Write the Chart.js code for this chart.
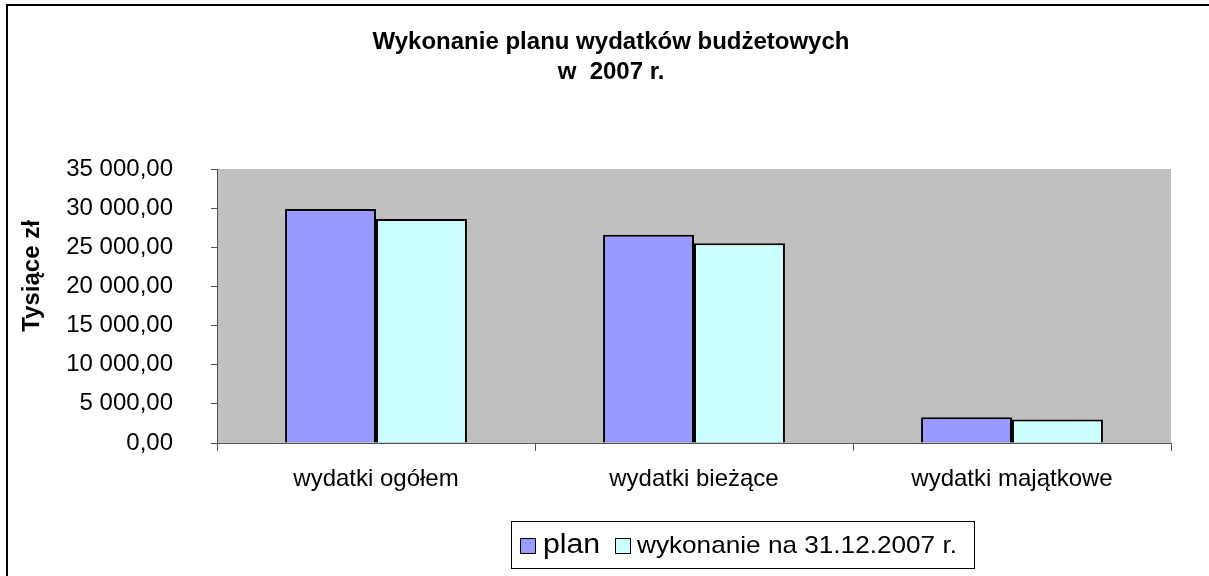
<!DOCTYPE html>
<html>
<head>
<meta charset="utf-8">
<script src="https://cdn.jsdelivr.net/npm/chart.js@4/dist/chart.umd.min.js"></script>
<style>
  html, body { margin: 0; padding: 0; background: #fff; }
  #wrap { width: 1209px; height: 576px; }
</style>
</head>
<body>
<div id="wrap"><canvas id="budzet"></canvas></div>
<script>
const categories = ['wydatki ogółem', 'wydatki bieżące', 'wydatki majątkowe'];
const seriesNames = ['plan', 'wykonanie na 31.12.2007 r.'];
const planValues = [29880, 26590, 3300];
const wykonanieValues = [28600, 25530, 3010];
const yMax = 35000;
const yStep = 5000;

const FONT = 'Liberation Sans, Arial, sans-serif';

// "35 000,00" style labels
function fmt(v) {
  const parts = v.toFixed(2).split('.');
  const whole = parts[0].replace(/\B(?=(\d{3})+(?!\d))/g, ' ');
  return whole + ',' + parts[1];
}

const frame = {
  id: 'frame',
  beforeDraw(chart) {
    const { ctx, chartArea: a } = chart;
    ctx.save();
    ctx.fillStyle = '#C0C0C0';
    ctx.fillRect(a.left, a.top, a.right - a.left, a.bottom - a.top);
    ctx.strokeStyle = '#000';
    ctx.lineWidth = 2;
    ctx.beginPath();
    ctx.moveTo(7, 576);
    ctx.lineTo(7, 5);
    ctx.lineTo(1209, 5);
    ctx.stroke();
    ctx.restore();
  },
  afterDraw(chart) {
    const ctx = chart.ctx;
    ctx.save();
    // y axis title
    ctx.translate(32, 276);
    ctx.rotate(-Math.PI / 2);
    ctx.font = 'bold 24px ' + FONT;
    ctx.fillStyle = '#000';
    ctx.textAlign = 'center';
    ctx.textBaseline = 'middle';
    ctx.fillText('Tysiące zł', 0, 0);
    ctx.restore();

    // legend box
    const ds = chart.data.datasets;
    ctx.save();
    ctx.strokeStyle = '#000';
    ctx.lineWidth = 1;
    ctx.fillStyle = '#fff';
    ctx.fillRect(511.5, 521.5, 463, 47);
    ctx.strokeRect(511.5, 521.5, 463, 47);
    ctx.textBaseline = 'middle';
    const items = [
      { x: 520, font: '27px ' + FONT, textX: 543, sx: 1.12 },
      { x: 615, font: '24px ' + FONT, textX: 637, sx: 1.09 }
    ];
    items.forEach((it, i) => {
      ctx.fillStyle = ds[i].backgroundColor;
      ctx.fillRect(it.x + 0.5, 538.5, 15, 15);
      ctx.strokeRect(it.x + 0.5, 538.5, 15, 15);
      ctx.fillStyle = '#000';
      ctx.font = it.font;
      ctx.save();
      ctx.translate(it.textX, 546);
      ctx.scale(it.sx, 1);
      ctx.fillText(ds[i].label, 0, 0);
      ctx.restore();
    });
    ctx.restore();
  }
};

new Chart(document.getElementById('budzet'), {
  type: 'bar',
  data: {
    labels: categories,
    datasets: [
      {
        label: seriesNames[0],
        data: planValues,
        backgroundColor: '#9999FF',
        borderColor: '#000',
        borderWidth: 2,
        categoryPercentage: 0.572,
        barPercentage: 1
      },
      {
        label: seriesNames[1],
        data: wykonanieValues,
        backgroundColor: '#CCFFFF',
        borderColor: '#000',
        borderWidth: 2,
        categoryPercentage: 0.572,
        barPercentage: 1
      }
    ]
  },
  options: {
    responsive: true,
    maintainAspectRatio: false,
    animation: false,
    layout: { padding: { left: 51, right: 38, top: 0, bottom: 73 } },
    plugins: {
      legend: { display: false },
      tooltip: { enabled: false },
      title: {
        display: true,
        text: ['Wykonanie planu wydatków budżetowych', 'w  2007 r.'],
        color: '#000',
        font: { family: FONT, size: 24, weight: 'bold', lineHeight: 1.25 },
        padding: { top: 27, bottom: 82 }
      }
    },
    scales: {
      x: {
        afterFit(s) { s.height = 60; },
        grid: { drawOnChartArea: false, offset: true, tickLength: 8, color: '#555' },
        border: { color: '#555', width: 1 },
        ticks: { color: '#000', padding: 14, font: { family: FONT, size: 24 } }
      },
      y: {
        min: 0,
        max: yMax,
        afterFit(s) { s.width = 166; },
        grid: { drawOnChartArea: false, tickLength: 6, color: '#555' },
        border: { color: '#555', width: 1 },
        ticks: {
          stepSize: yStep,
          color: '#000',
          padding: 38,
          font: { family: FONT, size: 24 },
          callback: v => fmt(v)
        }
      }
    }
  },
  plugins: [frame]
});
</script>
</body>
</html>
